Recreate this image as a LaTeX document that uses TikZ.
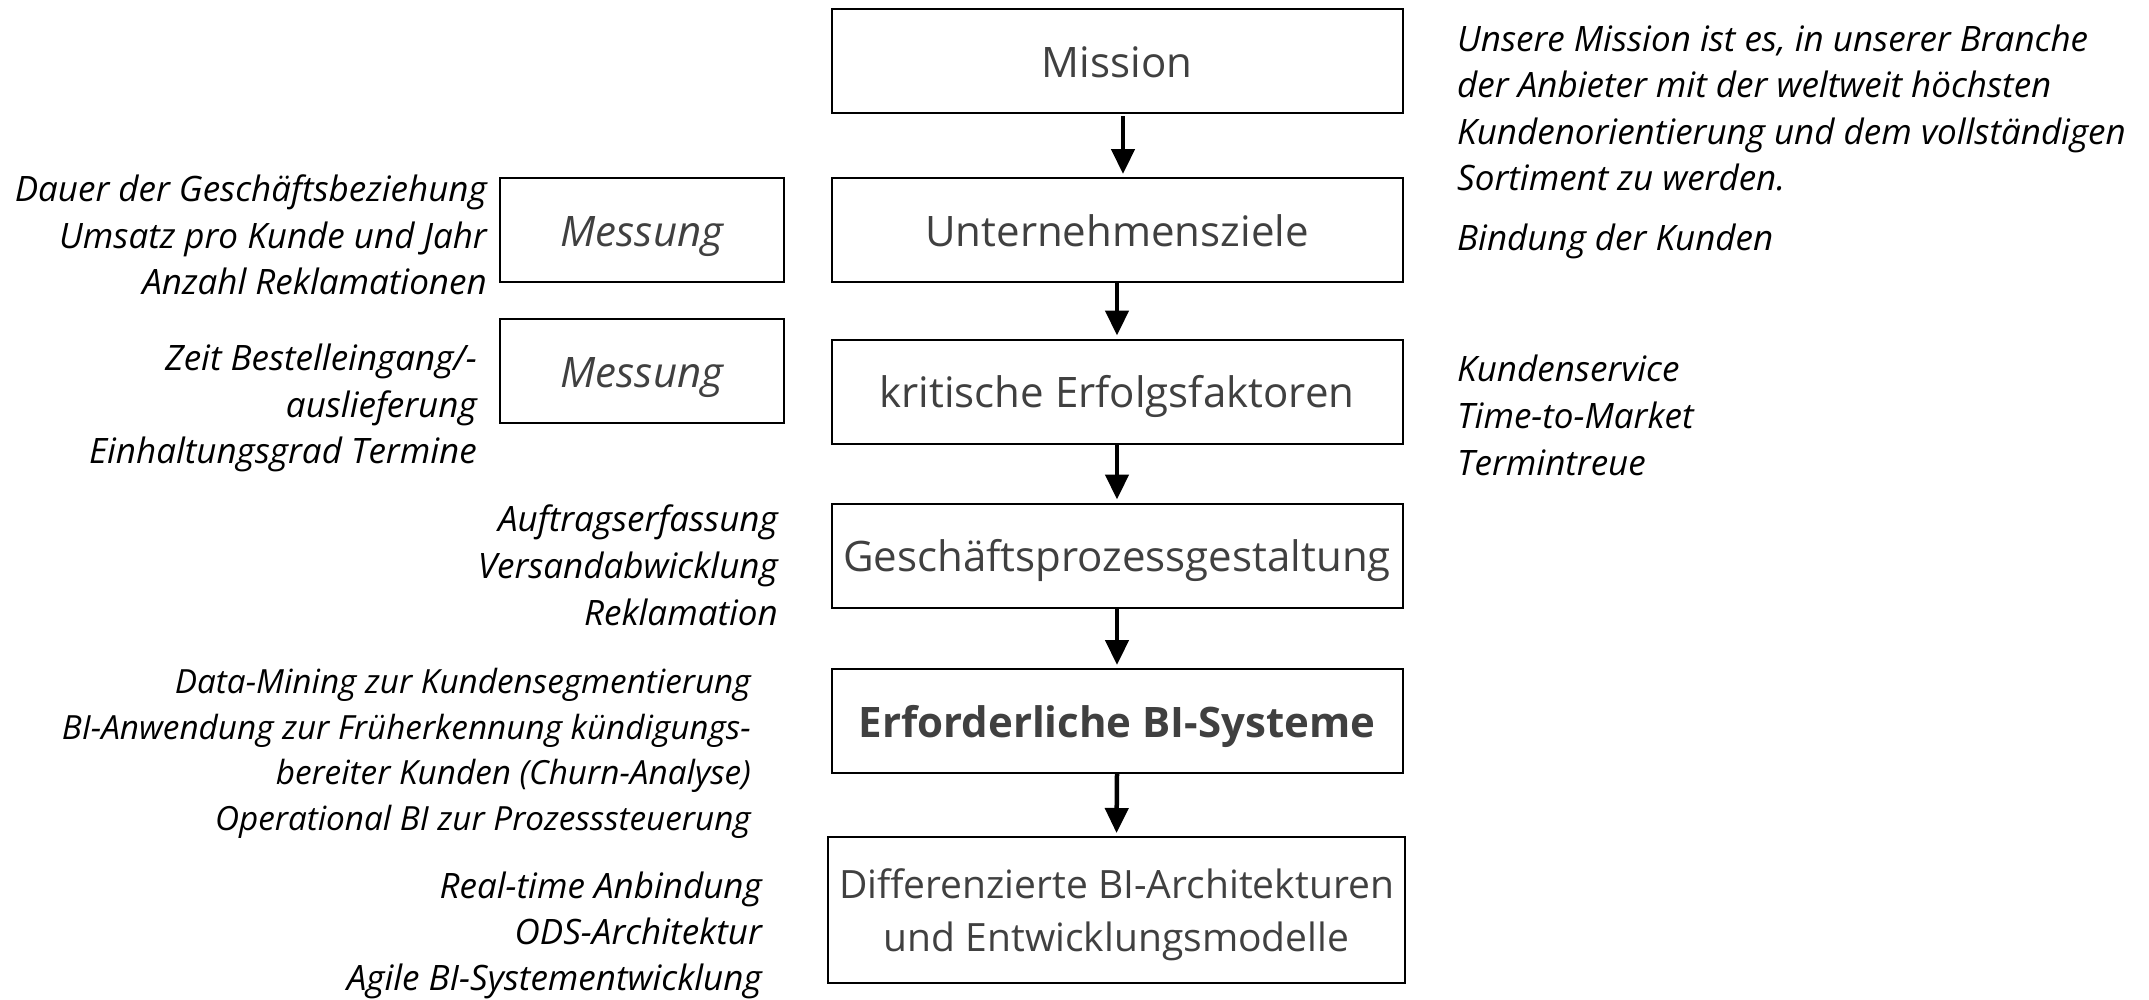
\documentclass[tikz,border=0pt]{standalone}
\usepackage{fontspec}
\setmainfont{Open Sans}
\usetikzlibrary{arrows.meta}
\definecolor{boxtext}{HTML}{404040}
\begin{document}
\begin{tikzpicture}[x=1pt,y=-1pt,
  box/.style={draw=black, line width=2pt, minimum width=571pt, minimum height=104pt,
    inner sep=0pt, align=center, text=boxtext, text height=32pt, text depth=0pt,
    font=\fontsize{42}{53}\selectfont},
  meas/.style={draw=black, line width=2pt, minimum width=284pt, minimum height=104pt,
    inner sep=0pt, text=boxtext, text height=32pt, text depth=0pt,
    font=\fontsize{42}{53}\selectfont\itshape},
  side/.style={inner sep=0pt, text=black, font=\fontsize{35}{46.5}\selectfont\itshape},
  smallside/.style={side, font=\fontsize{33.3}{45.5}\selectfont\itshape},
  flow/.style={line width=4.5pt, -{Triangle[width=23pt,length=25pt]}}
]
\useasboundingbox (0,0) rectangle (2149,999);

% main chain
\node[box] (m) at (1117,61) {Mission};
\node[box] (u) at (1117,230) {Unternehmensziele};
\node[box] (k) at (1117,391.5) {kritische Erfolgsfaktoren};
\node[box] (g) at (1117,555.5) {Geschäftsprozessgestaltung};
\node[box, font=\fontsize{42}{53}\selectfont\bfseries] (b) at (1117,721) {Erforderliche BI-Systeme};
\node[draw=black, line width=2pt, minimum width=577pt, minimum height=146pt, inner sep=0pt,
  align=center, text=boxtext, text depth=0pt, font=\fontsize{39}{53}\selectfont]
  (d) at (1116.5,910) {Differenzierte BI-Architekturen\\und Entwicklungsmodelle};

% measurement boxes
\node[meas] (ma) at (642,230) {Messung};
\node[meas] (mb) at (642,371) {Messung};

% arrows
\draw[flow] ([xshift=6pt,yshift=-2pt]m.south) -- ([xshift=6pt,yshift=3pt]u.north);
\draw[flow] (u.south) -- ([yshift=3pt]k.north);
\draw[flow] (k.south) -- ([yshift=3pt]g.north);
\draw[flow] (g.south) -- ([yshift=3pt]b.north);
\draw[flow] (b.south) -- ([yshift=3pt]d.north);

% left annotations
\foreach \t [count=\i] in {Dauer der Geschäftsbeziehung, Umsatz pro Kunde und Jahr, Anzahl Reklamationen}
  \node[side, anchor=base east] (la\i) at (487, 155+46.5*\i) {\t};
\foreach \t [count=\i] in {Zeit Bestelleingang/-, auslieferung, Einhaltungsgrad Termine}
  \node[side, anchor=base east] (lb\i) at (477, 324+46.5*\i) {\t};
\foreach \t [count=\i] in {Auftragserfassung, Versandabwicklung, Reklamation}
  \node[side, anchor=base east] (lc\i) at (778, 484+47*\i) {\t};
\foreach \t [count=\i] in {Data-Mining zur Kundensegmentierung, BI-Anwendung zur Früherkennung kündigungs-, bereiter Kunden (Churn-Analyse), Operational BI zur Prozesssteuerung}
  \node[smallside, anchor=base east] (ld\i) at (751, 648+45.5*\i) {\t};
\foreach \t [count=\i] in {Real-time Anbindung, ODS-Architektur, Agile BI-Systementwicklung}
  \node[side, anchor=base east] (le\i) at (762, 852+46*\i) {\t};

% right annotations
\foreach \t [count=\i] in {{Unsere Mission ist es, in unserer Branche}, der Anbieter mit der weltweit höchsten, Kundenorientierung und dem vollständigen, Sortiment zu werden.}
  \node[side, anchor=base west] (ra\i) at (1457, 4.5+46.5*\i) {\t};
\node[side, anchor=base west] (rb) at (1457,250) {Bindung der Kunden};
\foreach \t [count=\i] in {Kundenservice, Time-to-Market, Termintreue}
  \node[side, anchor=base west] (rc\i) at (1457, 335+46.8*\i) {\t};
\end{tikzpicture}
\end{document}
